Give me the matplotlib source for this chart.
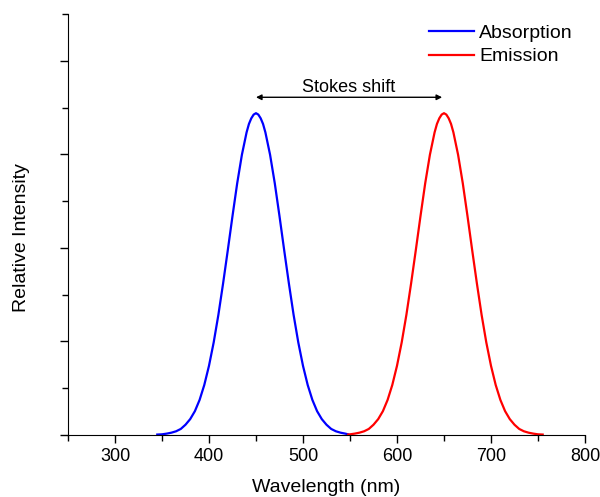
import matplotlib.pyplot as plt
from matplotlib.ticker import MultipleLocator

plt.rcParams['font.family'] = ['Liberation Sans', 'DejaVu Sans']

# values (arbitrary intensity units)
abs_wl = [345, 350, 355, 360, 365, 370, 375, 380, 385, 390, 395, 400, 405, 410,
          415, 420, 425, 430, 435, 440, 442.5, 445, 447.5, 450, 452.5, 455, 457.5,
          460, 465, 470, 475, 480, 485, 490, 495, 500, 505, 510, 515, 520, 525,
          530, 535, 540, 545, 548]
abs_int = [0.001, 0.0015, 0.003, 0.005, 0.008, 0.013, 0.022, 0.034, 0.051, 0.075,
           0.107, 0.148, 0.198, 0.257, 0.324, 0.395, 0.468, 0.538, 0.599, 0.647,
           0.665, 0.677, 0.685, 0.688, 0.685, 0.677, 0.665, 0.647, 0.599, 0.538,
           0.468, 0.395, 0.324, 0.257, 0.198, 0.148, 0.107, 0.075, 0.051, 0.034,
           0.022, 0.013, 0.008, 0.005, 0.003, 0.0015]
em_wl = [548, 550, 555, 560, 565, 570, 575, 580, 585, 590, 595, 600, 605, 610,
         615, 620, 625, 630, 635, 640, 642.5, 645, 647.5, 650, 652.5, 655, 657.5,
         660, 665, 670, 675, 680, 685, 690, 695, 700, 705, 710, 715, 720, 725,
         730, 735, 740, 745, 750, 755]
em_int = [0.001, 0.0015, 0.003, 0.005, 0.008, 0.013, 0.022, 0.034, 0.051, 0.075,
          0.107, 0.148, 0.198, 0.257, 0.324, 0.395, 0.468, 0.538, 0.599, 0.647,
          0.665, 0.677, 0.685, 0.688, 0.685, 0.677, 0.665, 0.647, 0.599, 0.538,
          0.468, 0.395, 0.324, 0.257, 0.198, 0.148, 0.107, 0.075, 0.051, 0.034,
          0.022, 0.013, 0.008, 0.005, 0.003, 0.0015, 0.001]
shift_from = 450
shift_to = 648
shift_y = 0.722

fig = plt.figure(figsize=(6, 4.97), dpi=100)
ax = fig.add_axes([0.1133, 0.1247, 0.8617, 0.8471])

ax.plot(abs_wl, abs_int, color='#0000ff', lw=1.6, label='Absorption',
        solid_joinstyle='round')
ax.plot(em_wl, em_int, color='#ff0000', lw=1.6, label='Emission',
        solid_joinstyle='round')

ax.annotate('', xy=(shift_from, shift_y), xytext=(shift_to, shift_y),
            arrowprops=dict(arrowstyle='<|-|>', color='black', lw=1,
                            mutation_scale=8, shrinkA=0, shrinkB=0))
ax.text((shift_from + shift_to) / 2, shift_y + 0.003, 'Stokes shift',
        ha='center', va='bottom', fontsize=13)

ax.set_xlim(250, 800)
ax.set_ylim(0, 0.9)
ax.xaxis.set_major_locator(MultipleLocator(100))
ax.xaxis.set_minor_locator(MultipleLocator(50))
ax.yaxis.set_major_locator(MultipleLocator(0.2))
ax.yaxis.set_minor_locator(MultipleLocator(0.1))
ax.set_yticklabels([])
ax.tick_params(which='major', length=6, width=1, labelsize=13)
ax.tick_params(which='minor', length=4, width=1)
ax.tick_params(axis='x', pad=3.5)

for s in ['top', 'right']:
    ax.spines[s].set_visible(False)

ax.set_xlabel('Wavelength (nm)', fontsize=14, labelpad=10)
ax.set_ylabel('Relative Intensity', fontsize=14, labelpad=17.5)
ax.yaxis.label.set_y(0.47)

ax.legend(loc='upper right', bbox_to_anchor=(1.01, 1.018), frameon=False,
          fontsize=14, handlelength=2.3, handletextpad=0.26, labelspacing=0.32)

fig.savefig('out.png', dpi=100)
